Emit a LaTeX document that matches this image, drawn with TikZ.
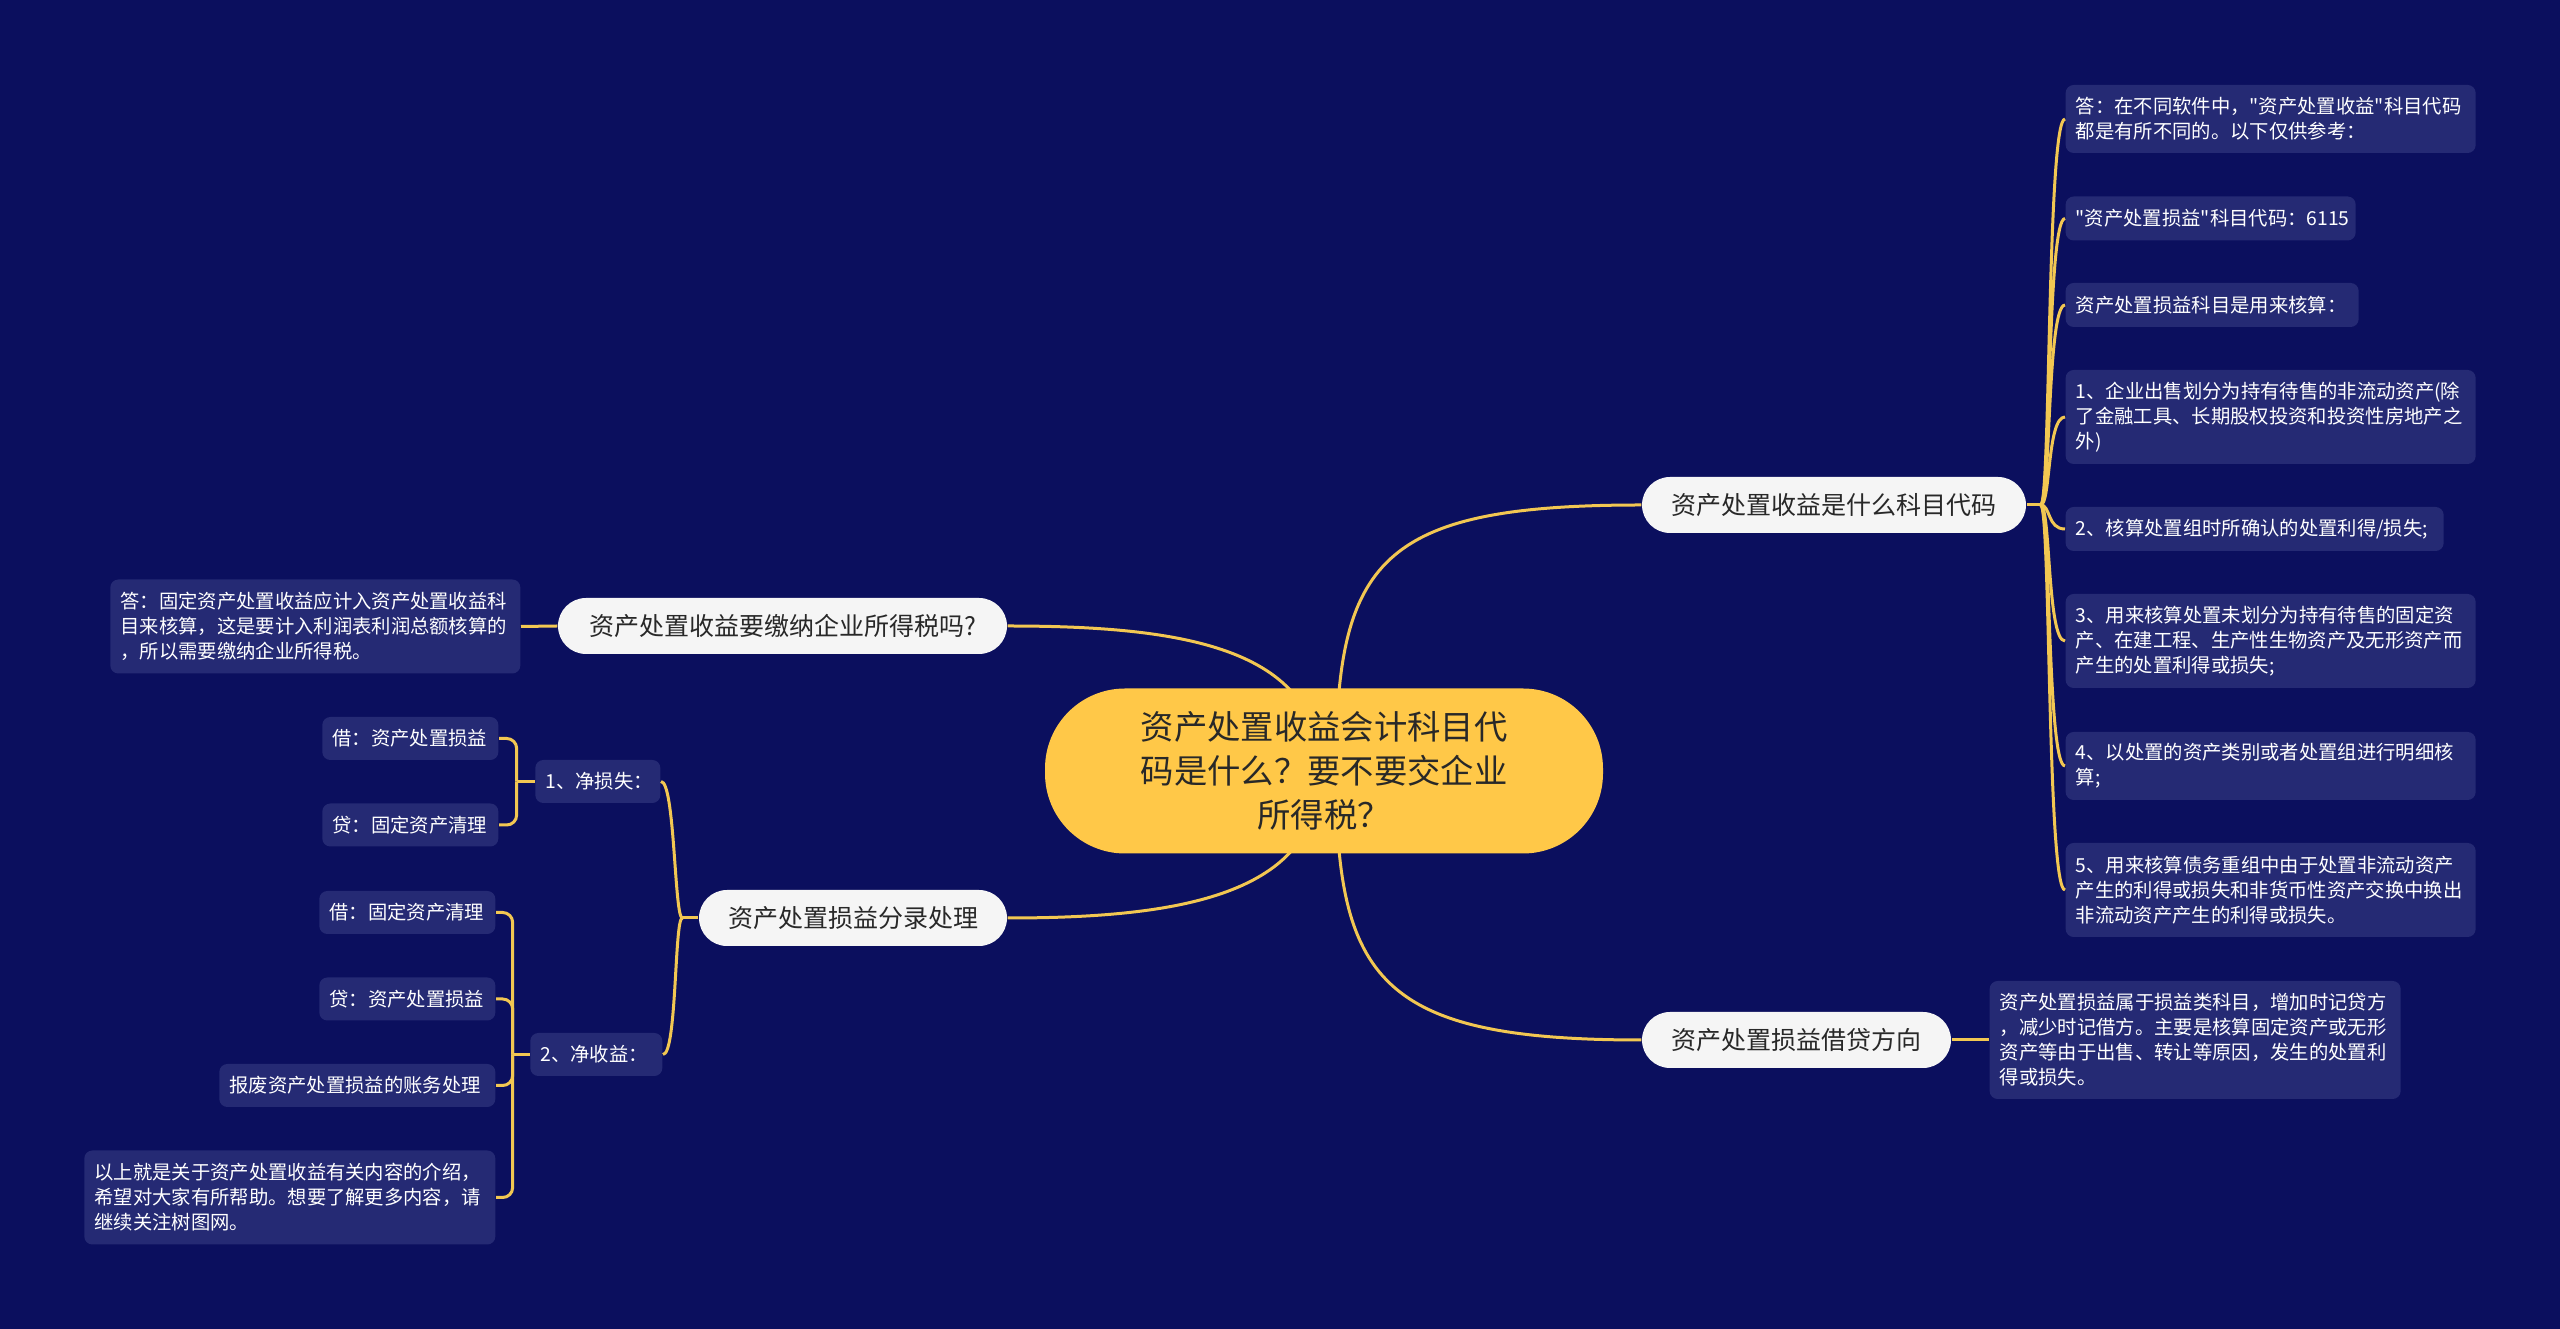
\documentclass[tikz,border=0pt]{standalone}
\usepackage{fontspec}
\newfontfamily\cjk{Noto Sans CJK SC}
\usetikzlibrary{calc,backgrounds}
\definecolor{bgc}{RGB}{11,15,94}
\definecolor{leafc}{RGB}{37,42,116}
\definecolor{linec}{RGB}{242,199,82}
\definecolor{rootc}{RGB}{255,200,72}
\definecolor{branchc}{RGB}{245,245,245}
\definecolor{darktext}{RGB}{40,40,40}
\begin{document}
\begin{tikzpicture}[x=0.3pt,y=-0.3pt,
  leaf/.style={fill=leafc, rounded corners=2.4pt, text=white, inner xsep=3pt, inner ysep=0pt, align=left, font=\cjk\fontsize{5.8pt}{7.5pt}\selectfont},
  branch/.style={fill=branchc, rounded corners=8.4pt, text=darktext, inner sep=0pt, minimum height=16.8pt, align=center, font=\cjk\fontsize{7.5pt}{9pt}\selectfont},
  root/.style={fill=rootc, rounded corners=24pt, text=darktext, inner sep=0pt, minimum width=167.4pt, minimum height=49.5pt, align=center, font=\cjk\fontsize{10pt}{13.2pt}\selectfont},
  conn/.style={draw=linec, line width=0.9pt}]
\useasboundingbox (0,0) rectangle (2560,1329);
\begin{pgfonlayer}{background}
\fill[bgc] (0,0) rectangle (2560,1329);
\end{pgfonlayer}

% root and branches
\node[root] (c) at (1324,771) {资产处置收益会计科目代\\码是什么？要不要交企业\\所得税？};
\node[branch, minimum width=115.2pt] (b1) at (1834,505) {资产处置收益是什么科目代码};
\node[branch, minimum width=92.7pt] (b2) at (1796.5,1040) {资产处置损益借贷方向};
\node[branch, minimum width=134.7pt] (b3) at (782.5,626) {资产处置收益要缴纳企业所得税吗?};
\node[branch, minimum width=92.4pt] (b4) at (853,918) {资产处置损益分录处理};

% right leaves
\node[leaf, anchor=west, text width=117pt, minimum height=20.4pt] (r1) at (2065,119) {答：在不同软件中，"资产处置收益"科目代码\\都是有所不同的。以下仅供参考：};
\node[leaf, anchor=west, text width=81pt, minimum height=13.2pt] (r2) at (2065,218.5) {"资产处置损益"科目代码：6115};
\node[leaf, anchor=west, text width=81.9pt, minimum height=13.2pt] (r3) at (2065,305) {资产处置损益科目是用来核算：};
\node[leaf, anchor=west, text width=117pt, minimum height=28.2pt] (r4) at (2065,417) {1、企业出售划分为持有待售的非流动资产(除\\了金融工具、长期股权投资和投资性房地产之\\外)};
\node[leaf, anchor=west, text width=107.4pt, minimum height=13.2pt] (r5) at (2065,529) {2、核算处置组时所确认的处置利得/损失;};
\node[leaf, anchor=west, text width=117pt, minimum height=28.2pt] (r6) at (2065,641) {3、用来核算处置未划分为持有待售的固定资\\产、在建工程、生产性生物资产及无形资产而\\产生的处置利得或损失;};
\node[leaf, anchor=west, text width=117pt, minimum height=20.4pt] (r7) at (2065,766) {4、以处置的资产类别或者处置组进行明细核\\算;};
\node[leaf, anchor=west, text width=117pt, minimum height=28.2pt] (r8) at (2065,890) {5、用来核算债务重组中由于处置非流动资产\\产生的利得或损失和非货币性资产交换中换出\\非流动资产产生的利得或损失。};
\node[leaf, anchor=west, text width=117.3pt, minimum height=35.4pt] (q1) at (1989,1040) {资产处置损益属于损益类科目，增加时记贷方\\，减少时记借方。主要是核算固定资产或无形\\资产等由于出售、转让等原因，发生的处置利\\得或损失。};

% left leaves
\node[leaf, anchor=east, text width=117pt, minimum height=28.2pt] (p1) at (521,626.5) {答：固定资产处置收益应计入资产处置收益科\\目来核算，这是要计入利润表利润总额核算的\\，所以需要缴纳企业所得税。};
\node[leaf, anchor=east, text width=31.5pt, minimum height=12.9pt] (s1) at (661,781.5) {1、净损失：};
\node[leaf, anchor=east, text width=46.8pt, minimum height=12.9pt] (s1a) at (499,738.5) {借：资产处置损益};
\node[leaf, anchor=east, text width=46.8pt, minimum height=12.9pt] (s1b) at (499,825) {贷：固定资产清理};
\node[leaf, anchor=east, text width=33.6pt, minimum height=12.9pt] (s2) at (663,1054.5) {2、净收益：};
\node[leaf, anchor=east, text width=46.8pt, minimum height=12.9pt] (s2a) at (496,912.5) {借：固定资产清理};
\node[leaf, anchor=east, text width=46.8pt, minimum height=12.9pt] (s2b) at (496,999) {贷：资产处置损益};
\node[leaf, anchor=east, text width=76.8pt, minimum height=12.9pt] (s2c) at (496,1085.5) {报废资产处置损益的账务处理};
\node[leaf, anchor=east, text width=117.3pt, minimum height=28.2pt] (s2d) at (496,1197.5) {以上就是关于资产处置收益有关内容的介绍，\\希望对大家有所帮助。想要了解更多内容，请\\继续关注树图网。};

\coordinate (j1) at ($(b1.east)+(14,0)$);
\coordinate (j4) at ($(b4.west)+(-16,0)$);
\coordinate (k1) at ($(s1.west)+(-18,0)$);
\coordinate (k2) at ($(s2.west)+(-17,0)$);

\begin{pgfonlayer}{background}
\draw[conn] ($(c.center)+(12,0)$) .. controls +(0,-211) and +(-262,0) .. (b1.west);
\draw[conn] ($(c.center)+(12,0)$) .. controls +(0,209) and +(-262,0) .. (b2.west);
\draw[conn] ($(c.center)+(-4,0)$) .. controls +(0,-125) and +(170,0) .. (b3.east);
\draw[conn] ($(c.center)+(-4,0)$) .. controls +(0,125) and +(170,0) .. (b4.east);
\end{pgfonlayer}

\draw[conn] (b1.east) -- (j1);
\foreach \n in {r1,r2,r3,r4,r5,r6,r7,r8}{
  \draw[conn] (j1) .. controls +(10,0) and +(-18,0) .. (\n.west);
}
\draw[conn] (b2.east) -- (q1.west);
\draw[conn] (b3.west) -- (p1.east);
\draw[conn] (b4.west) -- (j4);
\draw[conn] (j4) .. controls +(-8,0) and +(14,0) .. (s1.east);
\draw[conn] (j4) .. controls +(-8,0) and +(14,0) .. (s2.east);
\draw[conn] (s1.west) -- (k1);
\foreach \n in {s1a,s1b}{
  \draw[conn, rounded corners=3pt] (\n.east) -| (k1);
}
\draw[conn] (s2.west) -- (k2);
\foreach \n in {s2a,s2b,s2c,s2d}{
  \draw[conn, rounded corners=3pt] (\n.east) -| (k2);
}
\end{tikzpicture}
\end{document}
